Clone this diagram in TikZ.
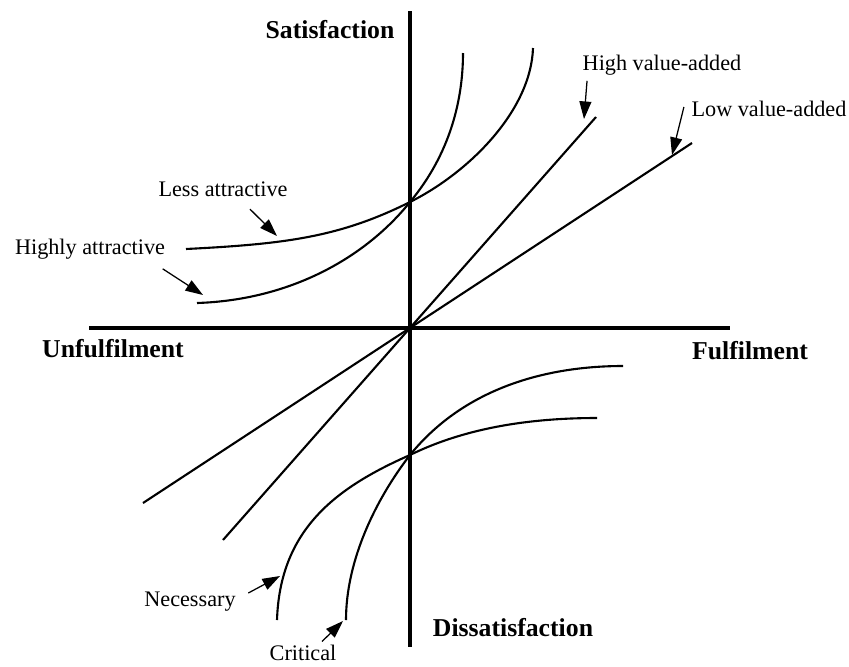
\documentclass[tikz,border=0pt]{standalone}
\usepackage{fontspec}
\setmainfont{Liberation Serif}
\usetikzlibrary{arrows.meta, calc}

\begin{document}
\begin{tikzpicture}[
  x=0.025cm, y=-0.025cm,
  axis/.style={line width=2.8pt},
  curve/.style={line width=1.5pt},
  axislabel/.style={font=\fontsize{18.3}{20}\selectfont\bfseries, inner sep=1pt},
  typelabel/.style={font=\fontsize{15.8}{18}\selectfont, inner sep=1pt},
  pointer/.style={-{Triangle[length=12.5pt, width=8.5pt]}, line width=0.9pt}
]
  \useasboundingbox (0,0) rectangle (849,666);

  % Axes
  \coordinate (xmin) at (89,328);
  \coordinate (xmax) at (730,328);
  \coordinate (ymax) at (410,11);
  \coordinate (ymin) at (410,647);
  \draw[axis] (xmin) -- (xmax);
  \draw[axis] (ymax) -- (ymin);

  \node[axislabel] (sat) at (330,30) {Satisfaction};
  \node[axislabel] (dissat) at (513,628) {Dissatisfaction};
  \node[axislabel] (unful) at (113,349) {Unfulfilment};
  \node[axislabel] (ful) at (750,351) {Fulfilment};

  % Value-added lines through the origin
  \coordinate (hiStart) at (223,540);
  \coordinate (hiEnd) at (596,117);
  \coordinate (loStart) at (143,503);
  \coordinate (loEnd) at (692,143);
  \draw[curve] (hiStart) -- (hiEnd);
  \draw[curve] (loStart) -- (loEnd);

  % Attractive curves - upper half
  \coordinate (attrCross) at (410,202);
  \coordinate (lessStart) at (186,249);
  \coordinate (lessEnd) at (533,48);
  \coordinate (highStart) at (197,303);
  \coordinate (highEnd) at (463,53);
  \draw[curve] (lessStart) .. controls (286,244) and (340,237) .. (attrCross)
    .. controls (470,172) and (531,110) .. (lessEnd);
  \draw[curve] (highStart) .. controls (290,300) and (365,258) .. (attrCross)
    .. controls (450,154) and (463,100) .. (highEnd);

  % Must-be curves - lower half
  \coordinate (mustCross) at (410,455);
  \coordinate (necStart) at (277,620);
  \coordinate (necEnd) at (597,418);
  \coordinate (critStart) at (346,620);
  \coordinate (critEnd) at (623,366);
  \draw[curve] (necStart) .. controls (280,530) and (335,488) .. (mustCross)
    .. controls (471,425) and (540,418) .. (necEnd);
  \draw[curve] (critStart) .. controls (346,560) and (376,499) .. (mustCross)
    .. controls (466,386) and (550,366) .. (critEnd);

  % Labels
  \node[typelabel] (less) at (223,189) {Less attractive};
  \node[typelabel] (hiattr) at (90,249) {Highly attractive};
  \node[typelabel] (hival) at (662,65) {High value-added};
  \node[typelabel] (loval) at (769,109) {Low value-added};
  \node[typelabel] (necess) at (190,602) {Necessary};
  \node[typelabel] (crit) at (303,653) {Critical};

  \coordinate (lessTip) at (277,236);
  \coordinate (hiattrTip) at (203,295);
  \coordinate (hivalTip) at (584,119);
  \coordinate (lovalTip) at (672,155);
  \coordinate (necessTip) at (280,576);
  \coordinate (critTip) at (343,621);

  \draw[pointer] ($(less.south)+(27,11)$) -- (lessTip);
  \draw[pointer] ($(hiattr.south east)+(-4,8)$) -- (hiattrTip);
  \draw[pointer] ($(hival.south west)+(6,4)$) -- (hivalTip);
  \draw[pointer] ($(loval.west)+(-6,-2)$) -- (lovalTip);
  \draw[pointer] ($(necess.east)+(11,-9)$) -- (necessTip);
  \draw[pointer] ($(crit.north)+(19,-2)$) -- (critTip);
\end{tikzpicture}
\end{document}
